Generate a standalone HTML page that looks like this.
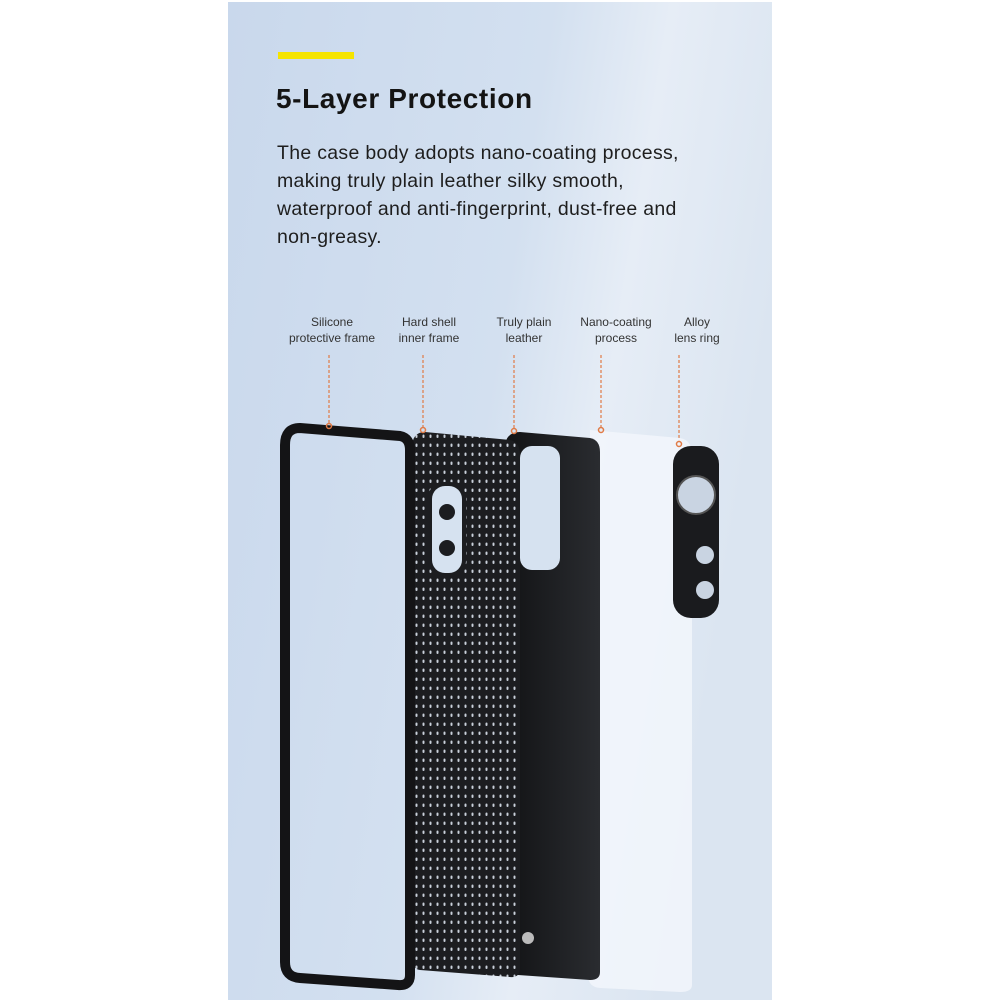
<!DOCTYPE html><html><head><style>body{margin:0;background:#fff}svg{display:block}</style></head><body>
<svg width="1000" height="1000" viewBox="0 0 1000 1000" xmlns="http://www.w3.org/2000/svg">
<defs>
<linearGradient id="bg" x1="0" y1="0" x2="1" y2="0.3">
<stop offset="0" stop-color="#c9d8ec"/><stop offset="0.55" stop-color="#d3e0f0"/><stop offset="0.75" stop-color="#e6edf6"/><stop offset="1" stop-color="#dbe5f1"/></linearGradient>
<pattern id="dots" width="7" height="9" patternUnits="userSpaceOnUse"><rect width="7" height="9" fill="#1c1d20"/><rect x="2.5" y="2.5" width="2" height="3.5" rx="1" fill="#c9d0da"/></pattern>
<linearGradient id="lea" x1="0" x2="1"><stop offset="0" stop-color="#121315"/><stop offset="1" stop-color="#2a2c30"/></linearGradient>
</defs>
<rect x="228" y="2" width="544" height="998" fill="url(#bg)"/>
<rect x="278" y="52" width="76" height="7" fill="#f5e400"/>
<text x="276" y="108" font-family="Liberation Sans, sans-serif" font-weight="bold" font-size="28" letter-spacing="0.6" fill="#141414">5-Layer Protection</text>
<g font-family="Liberation Sans, sans-serif" font-size="19.5" fill="#1e1e1e" letter-spacing="0.3">
<text x="277" y="159">The case body adopts nano-coating process,</text>
<text x="277" y="187">making truly plain leather silky smooth,</text>
<text x="277" y="215">waterproof and anti-fingerprint, dust-free and</text>
<text x="277" y="243">non-greasy.</text></g>
<g font-family="Liberation Sans, sans-serif" font-size="12" fill="#333" text-anchor="middle">
<text x="332" y="326">Silicone</text><text x="332" y="342">protective frame</text>
<text x="429" y="326">Hard shell</text><text x="429" y="342">inner frame</text>
<text x="524" y="326">Truly plain</text><text x="524" y="342">leather</text>
<text x="616" y="326">Nano-coating</text><text x="616" y="342">process</text>
<text x="697" y="326">Alloy</text><text x="697" y="342">lens ring</text></g>
<g stroke="#e07a45" stroke-width="1.2" stroke-dasharray="3,2" fill="none">
<line x1="329" y1="355" x2="329" y2="425"/><line x1="423" y1="355" x2="423" y2="429"/>
<line x1="514" y1="355" x2="514" y2="430"/><line x1="601" y1="355" x2="601" y2="428"/>
<line x1="679" y1="355" x2="679" y2="442"/></g>
<path d="M590 430 L680 438 Q692 440 692 455 L692 985 Q692 992 680 992 L600 988 Q588 987 588 975 Z" fill="#f2f6fc" opacity="0.85"/>
<path d="M520 432 L590 438 Q600 440 600 452 L600 972 Q600 980 590 980 L518 975 Q505 974 505 962 L505 448 Q505 432 520 432 Z" fill="url(#lea)"/>
<rect x="520" y="446" width="40" height="124" rx="12" fill="#d6e2f0"/>
<circle cx="528" cy="938" r="6" fill="#bbb"/>
<path d="M425 432 L510 440 Q520 442 520 455 L520 968 Q520 978 510 977 L420 970 Q412 969 412 958 L412 448 Q412 432 425 432 Z" fill="url(#dots)"/>
<rect x="428" y="482" width="38" height="95" rx="16" fill="#1c1d20"/>
<rect x="432" y="486" width="30" height="87" rx="13" fill="#d6e2f0"/>
<circle cx="447" cy="512" r="8" fill="#1c1d20"/><circle cx="447" cy="548" r="8" fill="#1c1d20"/>
<path d="M300 428 L400 436 Q410 438 410 450 L410 975 Q410 986 398 985 L300 978 Q285 977 285 962 L285 445 Q285 428 300 428 Z" fill="none" stroke="#141416" stroke-width="10"/>
<rect x="673" y="446" width="46" height="172" rx="18" fill="#1a1b1e"/>
<circle cx="696" cy="495" r="19" fill="#c9d4e2" stroke="#555" stroke-width="2"/>
<circle cx="705" cy="555" r="9" fill="#c9d4e2"/><circle cx="705" cy="590" r="9" fill="#c9d4e2"/>
<g fill="none" stroke="#e07a45" stroke-width="1.5"><circle cx="329" cy="426" r="2.5"/><circle cx="423" cy="430" r="2.5"/><circle cx="514" cy="431" r="2.5"/><circle cx="601" cy="430" r="2.5"/><circle cx="679" cy="444" r="2.5"/></g>
</svg></body></html>
